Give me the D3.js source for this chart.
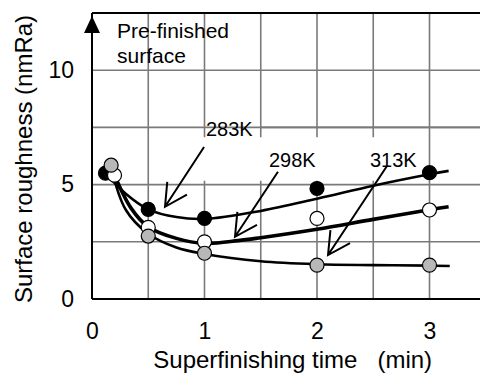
<!DOCTYPE html>
<html>
<head>
<meta charset="utf-8">
<script src="https://cdn.jsdelivr.net/npm/d3@7"></script>
<style>
  body { margin: 0; background: #fff; }
  svg { display: block; font-family: "Liberation Sans", Arial, sans-serif; }
</style>
</head>
<body>
<div id="chart"></div>
<script>
// ---- data ----
const xTicks = [0, 1, 2, 3];
const yTicks = [0, 5, 10];
const xGrid = [0.5, 1, 1.5, 2, 2.5, 3];
const yGrid = [2.5, 5, 7.5, 10];

// measured points (time in min, roughness in nmRa)
const time283 = [0.12, 0.5, 1, 2, 3];
const rough283 = [5.5, 3.92, 3.52, 4.83, 5.52];
const time298 = [0.2, 0.5, 1, 2, 3];
const rough298 = [5.41, 3.13, 2.5, 3.52, 3.89];
const time313 = [0.17, 0.5, 1, 2, 3];
const rough313 = [5.85, 2.75, 2.0, 1.48, 1.48];

// fitted curves
const fitX283 = [0.12, 0.3, 0.5, 0.75, 1, 1.5, 2, 2.5, 3, 3.17];
const fitY283 = [5.5, 4.6, 3.92, 3.58, 3.5, 3.85, 4.38, 4.95, 5.45, 5.6];
const fitX298 = [0.2, 0.35, 0.5, 0.75, 1, 1.3, 1.5, 2, 2.5, 3, 3.17];
const fitY298 = [5.41, 3.95, 3.15, 2.65, 2.43, 2.55, 2.68, 3.05, 3.48, 3.9, 4.03];
const fitX313 = [0.17, 0.3, 0.5, 0.75, 1, 1.5, 2, 2.5, 3, 3.18];
const fitY313 = [5.75, 3.9, 2.85, 2.25, 1.97, 1.65, 1.52, 1.48, 1.46, 1.44];

// temperature labels: text, label position, arrow start, arrow tip (data units)
const labelText = ["283K", "298K", "313K"];
const labelPos = [[1.013, 7.12], [1.573, 5.76], [2.471, 5.76]];
const arrowFrom = [[0.996, 6.64], [1.653, 5.56], [2.622, 5.81]];
const arrowTo = [[0.649, 4.03], [1.271, 2.72], [2.098, 1.92]];

const width = 480, height = 374;
const margin = { top: 13, left: 92, bottom: 75 };

const svg = d3.select("#chart").append("svg")
  .attr("width", width)
  .attr("height", height);

const x = d3.scaleLinear().domain([0, 3.5]).range([margin.left, margin.left + 3.5 * 112.5]);
const y = d3.scaleLinear().domain([0, 12.5]).range([299, margin.top]);

// grid
svg.append("g").selectAll("line.v")
  .data(xGrid).enter().append("line")
  .attr("x1", d => x(d)).attr("x2", d => x(d))
  .attr("y1", y(0)).attr("y2", y(12.5))
  .attr("stroke", "#7a7a7a").attr("stroke-width", 1.6);
svg.append("g").selectAll("line.h")
  .data(yGrid).enter().append("line")
  .attr("x1", x(0)).attr("x2", width)
  .attr("y1", d => y(d)).attr("y2", d => y(d))
  .attr("stroke", "#7a7a7a").attr("stroke-width", 1.6);

// white area behind the labels (covers the vertical grid)
svg.append("rect")
  .attr("x", x(0.94)).attr("y", y(7.07))
  .attr("width", x(2.96) - x(0.94))
  .attr("height", y(5.17) - y(7.07))
  .attr("fill", "#fff");
svg.append("line")
  .attr("x1", x(1.5)).attr("x2", width)
  .attr("y1", y(7.5)).attr("y2", y(7.5))
  .attr("stroke", "#7a7a7a").attr("stroke-width", 1.6);

// axes
svg.append("line")
  .attr("x1", x(0)).attr("x2", width)
  .attr("y1", y(12.5)).attr("y2", y(12.5))
  .attr("stroke", "#000").attr("stroke-width", 2);

const xAxis = svg.append("g")
  .attr("transform", `translate(0, ${y(0)})`)
  .call(d3.axisBottom(x).tickValues(xTicks).tickSize(0).tickPadding(24).tickFormat(d3.format("d")));
xAxis.select(".domain").remove();
xAxis.selectAll("text").style("font-size", "23px").attr("fill", "#000");

const yAxis = svg.append("g")
  .attr("transform", `translate(${x(0)}, 0)`)
  .call(d3.axisLeft(y).tickValues(yTicks).tickSize(0).tickPadding(18).tickFormat(d3.format("d")));
yAxis.select(".domain").remove();
yAxis.selectAll("text").style("font-size", "23px").attr("fill", "#000");

svg.append("line")
  .attr("x1", x(0)).attr("x2", width)
  .attr("y1", y(0)).attr("y2", y(0))
  .attr("stroke", "#000").attr("stroke-width", 2);
svg.append("line")
  .attr("x1", x(0)).attr("x2", x(0))
  .attr("y1", y(0)).attr("y2", y(12.5))
  .attr("stroke", "#000").attr("stroke-width", 2);
// arrow head on y axis
svg.append("path")
  .attr("d", `M${x(0)},${y(12.5) + 3} L${x(0) - 8},${y(12.5) + 20} L${x(0) + 8},${y(12.5) + 20} Z`)
  .attr("fill", "#000");

// axis titles
svg.append("text")
  .attr("x", x(0.545)).attr("y", 368)
  .style("font-size", "24px")
  .style("white-space", "pre")
  .text("Superfinishing time   (min)");
svg.append("text")
  .attr("transform", `translate(32, 159) rotate(-90)`)
  .attr("text-anchor", "middle")
  .style("font-size", "24px")
  .text("Surface roughness (nmRa)");

// pre-finished note
svg.append("text")
  .attr("x", x(0.222)).attr("y", y(11.4))
  .style("font-size", "21px")
  .text("Pre-finished");
svg.append("text")
  .attr("x", x(0.222)).attr("y", y(10.3))
  .style("font-size", "21px")
  .text("surface");

// fitted curves
const line = d3.line()
  .curve(d3.curveCatmullRom.alpha(0.5))
  .x(d => x(d[0]))
  .y(d => y(d[1]));

const fits = [
  { xs: fitX283, ys: fitY283, w: 2.6 },
  { xs: fitX298, ys: fitY298, w: 3.6 },
  { xs: fitX313, ys: fitY313, w: 2.6 }
];
fits.forEach(f => {
  svg.append("path")
    .datum(f.xs.map((v, i) => [v, f.ys[i]]))
    .attr("d", line)
    .attr("fill", "none")
    .attr("stroke", "#000")
    .attr("stroke-width", f.w);
});

// arrows
function arrowHead(from, to) {
  const x0 = x(from[0]), y0 = y(from[1]), x1 = x(to[0]), y1 = y(to[1]);
  const ang = Math.atan2(y0 - y1, x0 - x1);
  const a = 28 * Math.PI / 180, L = 25;
  const p1 = [x1 + L * Math.cos(ang - a), y1 + L * Math.sin(ang - a)];
  const p2 = [x1 + L * Math.cos(ang + a), y1 + L * Math.sin(ang + a)];
  return `M${x0},${y0} L${x1},${y1} M${p1[0]},${p1[1]} L${x1},${y1} L${p2[0]},${p2[1]}`;
}
arrowFrom.forEach((f, i) => {
  svg.append("path")
    .attr("d", arrowHead(f, arrowTo[i]))
    .attr("fill", "none")
    .attr("stroke", "#000")
    .attr("stroke-width", 2);
});

// temperature labels
labelText.forEach((t, i) => {
  svg.append("text")
    .attr("x", x(labelPos[i][0])).attr("y", y(labelPos[i][1]))
    .style("font-size", "20px")
    .text(t);
});

// measured points
const pts = [
  { xs: time283, ys: rough283, fill: "#000" },
  { xs: time298, ys: rough298, fill: "#fff" },
  { xs: time313, ys: rough313, fill: "#b8b8b8" }
];
pts.forEach(p => {
  svg.append("g").selectAll("circle")
    .data(p.xs.map((v, i) => [v, p.ys[i]]))
    .enter().append("circle")
    .attr("cx", d => x(d[0]))
    .attr("cy", d => y(d[1]))
    .attr("r", 7)
    .attr("fill", p.fill)
    .attr("stroke", "#000")
    .attr("stroke-width", 1.2);
});
</script>
</body>
</html>
